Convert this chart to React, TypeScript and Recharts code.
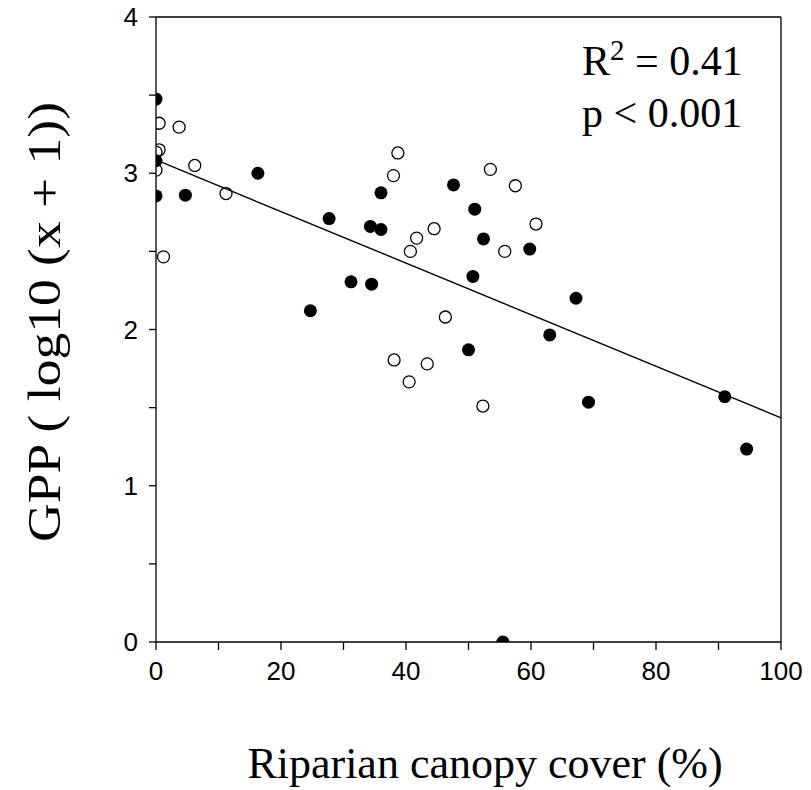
import {
  ScatterChart,
  Scatter,
  XAxis,
  YAxis,
  ReferenceLine,
  Customized,
} from "recharts";

// canopy cover (%) / GPP log10(x+1), filled symbols
const FILLED_X = [0, 0, 0, 4.7, 16.3, 27.7, 34.3, 36.0, 36.0, 31.2, 34.5, 24.7, 47.6, 51.0, 52.4, 50.7, 59.8, 50.0, 67.2, 63.0, 69.2, 91.0, 94.5, 55.5];
const FILLED_Y = [3.475, 3.08, 2.855, 2.86, 3.0, 2.71, 2.66, 2.64, 2.875, 2.305, 2.29, 2.12, 2.925, 2.77, 2.58, 2.34, 2.515, 1.87, 2.2, 1.965, 1.535, 1.57, 1.235, 0.0];

// open symbols
const OPEN_X = [0.5, 3.7, 0.5, 0, 0, 6.2, 11.2, 1.2, 38.7, 38.0, 53.5, 57.5, 60.8, 44.5, 41.7, 40.7, 55.8, 46.3, 38.1, 43.4, 40.5, 52.3];
const OPEN_Y = [3.32, 3.295, 3.15, 3.135, 3.02, 3.05, 2.87, 2.465, 3.13, 2.985, 3.025, 2.92, 2.675, 2.645, 2.585, 2.5, 2.5, 2.08, 1.805, 1.78, 1.665, 1.51];

// fitted regression line end points
const FIT_X = [0, 100];
const FIT_Y = [3.085, 1.435];

const X_TICKS = [0, 10, 20, 30, 40, 50, 60, 70, 80, 90, 100];
const Y_TICKS = [0, 0.5, 1, 1.5, 2, 2.5, 3, 3.5, 4];

const filled = FILLED_X.map((x, i) => ({ x, y: FILLED_Y[i] }));
const open = OPEN_X.map((x, i) => ({ x, y: OPEN_Y[i] }));

const SERIF = '"Liberation Serif", "Times New Roman", serif';
const SANS = '"Liberation Sans", Arial, sans-serif';

const FilledDot = (props: any) => (
  <circle cx={props.cx} cy={props.cy} r={6.5} fill="#000" />
);
const OpenDot = (props: any) => (
  <circle cx={props.cx} cy={props.cy} r={6} fill="none" stroke="#000" strokeWidth={1.3} />
);

function Annotations() {
  return (
    <g fontFamily={SERIF} fill="#000">
      <text x={582} y={75} fontSize={42}>
        R<tspan fontSize={29} dy={-15}>2</tspan>
        <tspan dy={15}> = 0.41</tspan>
      </text>
      <text x={582} y={127} fontSize={42}>
        p &lt; 0.001
      </text>
      <text x={485} y={778} fontSize={44} textAnchor="middle">
        Riparian canopy cover (%)
      </text>
      <text
        x={60}
        y={322}
        fontSize={46}
        textAnchor="middle"
        textLength={440}
        lengthAdjust="spacingAndGlyphs"
        transform="rotate(-90 60 322)"
      >
        GPP ( log10 (x + 1))
      </text>
    </g>
  );
}

export default function App() {
  return (
    <div style={{ position: "absolute", left: 0, top: 0 }}>
      <ScatterChart
        width={811}
        height={790}
        margin={{ top: 17, right: 30, bottom: 0, left: 0 }}
      >
        <XAxis
          type="number"
          dataKey="x"
          domain={[0, 100]}
          ticks={X_TICKS}
          tickFormatter={(v) => (v % 20 === 0 ? String(v) : "")}
          height={148}
          stroke="#000"
          strokeWidth={1.3}
          tickSize={8}
          tickMargin={12}
          tick={{ fill: "#000", fontSize: 26, fontFamily: SANS }}
          allowDataOverflow
        />
        <YAxis
          type="number"
          dataKey="y"
          domain={[0, 4]}
          ticks={Y_TICKS}
          tickFormatter={(v) => (Number.isInteger(v) ? String(v) : "")}
          width={156}
          stroke="#000"
          strokeWidth={1.3}
          tickSize={7}
          tickMargin={11}
          tick={{ fill: "#000", fontSize: 26, fontFamily: SANS }}
          allowDataOverflow
        />
        <ReferenceLine y={4} stroke="#000" strokeWidth={1.3} />
        <ReferenceLine x={100} stroke="#000" strokeWidth={1.3} />
        <ReferenceLine
          segment={[
            { x: FIT_X[0], y: FIT_Y[0] },
            { x: FIT_X[1], y: FIT_Y[1] },
          ]}
          stroke="#000"
          strokeWidth={1.4}
        />
        <Scatter data={open} shape={OpenDot} isAnimationActive={false} />
        <Scatter data={filled} shape={FilledDot} isAnimationActive={false} />
        <Customized component={Annotations} />
      </ScatterChart>
    </div>
  );
}
